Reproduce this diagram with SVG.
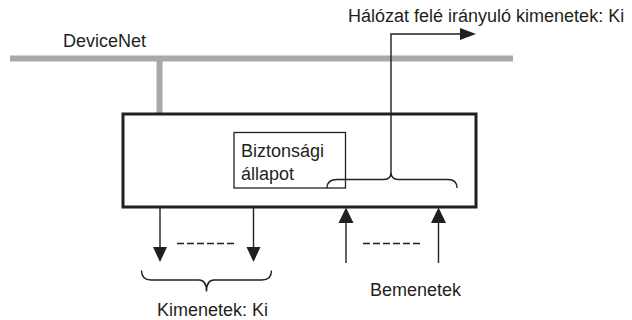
<svg xmlns="http://www.w3.org/2000/svg" width="632" height="320" viewBox="0 0 632 320">
<style>
.t{font-family:"Liberation Sans",Arial,sans-serif;font-size:18px;fill:#231f20}
.ln{stroke:#231f20;stroke-width:1.4;fill:none}
.dash{stroke:#231f20;stroke-width:1.3;stroke-dasharray:7 3;fill:none}
.bus{stroke:#a7a9ac;stroke-width:6;fill:none}
.ah{fill:#231f20}
</style>
<rect width="632" height="320" fill="#fff"/>
<g id="devicenet">
<line class="bus" x1="10" y1="58.5" x2="513" y2="58.5"/>
<line class="bus" x1="159.5" y1="58" x2="159.5" y2="114"/>
<text class="t" x="63" y="47">DeviceNet</text>
</g>
<g id="device">
<rect x="123" y="114" width="353" height="93" fill="none" stroke="#231f20" stroke-width="3"/>
</g>
<g id="safety-state">
<rect x="234" y="132.5" width="111.5" height="55.5" fill="#fff" stroke="#231f20" stroke-width="1.3"/>
<text class="t" x="241" y="157">Biztonsági</text>
<text class="t" x="241" y="180">állapot</text>
</g>
<g id="network-outputs-label">
<text class="t" x="348" y="22">Hálózat felé irányuló kimenetek: Ki</text>
</g>
<g id="outputs-label">
<text class="t" x="157" y="316">Kimenetek: Ki</text>
</g>
<g id="inputs-label">
<text class="t" x="370" y="296">Bemenetek</text>
</g>
<g id="connectors">
<path class="ln" d="M327,188 Q327,179.5 337,179.5 L384,179.5 Q391,179.5 391,172 Q391,179.5 398,179.5 L448,179.5 Q457,179.5 457,188"/>
<path class="ln" d="M391,172 L391,34 L462,34"/>
<polygon class="ah" points="476,34 460,28 460,40"/>
<line class="ln" x1="160" y1="207" x2="160" y2="248"/>
<polygon class="ah" points="160,262 153,247 167,247"/>
<line class="ln" x1="253.5" y1="207" x2="253.5" y2="248"/>
<polygon class="ah" points="253.5,262 246.5,247 260.5,247"/>
<line class="dash" x1="177" y1="243.5" x2="235" y2="243.5"/>
<path class="ln" d="M141.5,270.5 Q141.5,280 151,280 L199,280 Q206.5,280 206.5,291.5 Q206.5,280 214,280 L262,280 Q271.5,280 271.5,270.5"/>
<line class="ln" x1="346" y1="263" x2="346" y2="221"/>
<polygon class="ah" points="346,207.5 338.5,223 353.5,223"/>
<line class="ln" x1="438.5" y1="263" x2="438.5" y2="221"/>
<polygon class="ah" points="438.5,207.5 431,223 446,223"/>
<line class="dash" x1="363" y1="243.5" x2="421" y2="243.5"/>
</g>
</svg>
